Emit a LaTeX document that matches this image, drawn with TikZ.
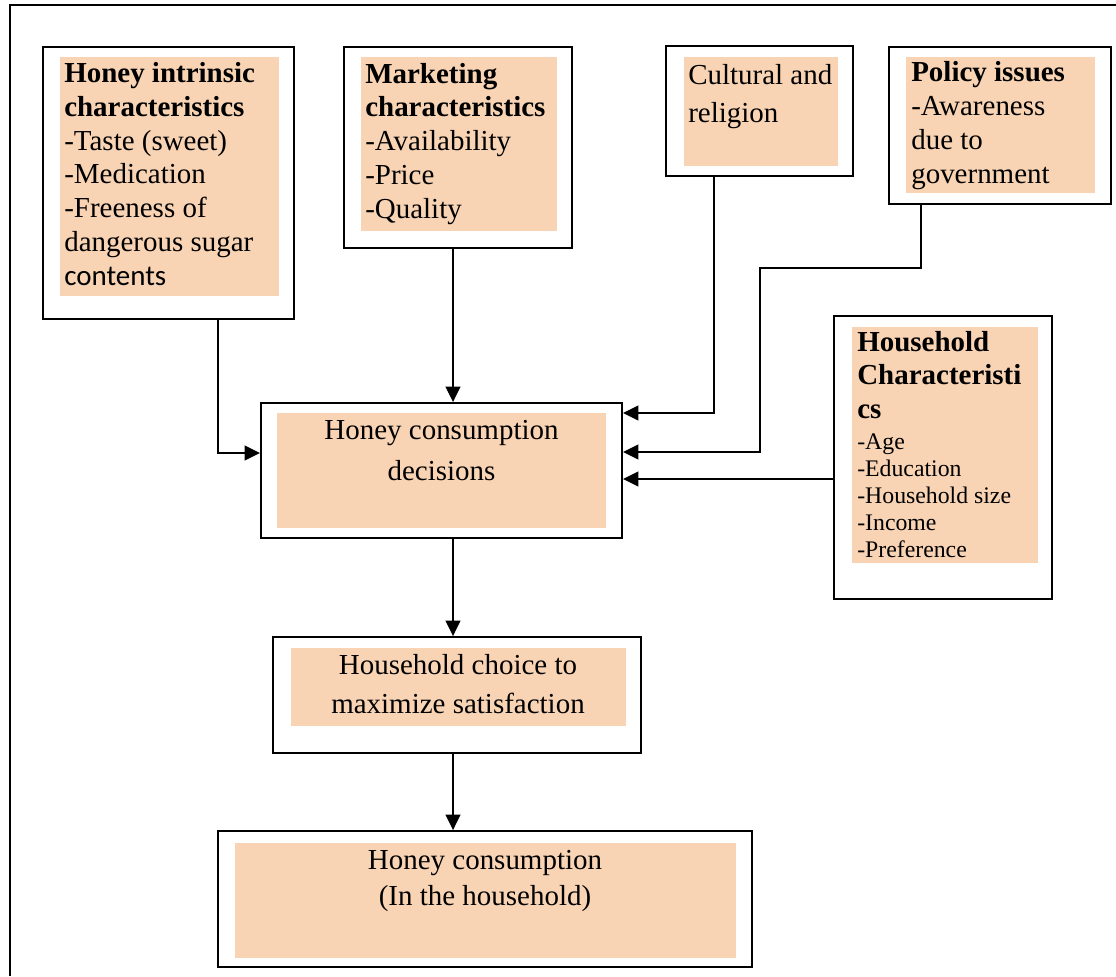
\documentclass[tikz,border=0pt]{standalone}
\usepackage{fontspec}
\setmainfont{Liberation Serif}
\newfontfamily\calibrifont{Carlito}
\usetikzlibrary{arrows.meta}
\definecolor{peach}{HTML}{F9D4B4}

\begin{document}
\begin{tikzpicture}[x=.025cm,y=-.025cm,
  box/.style={draw,line width=1.3pt,inner sep=0pt},
  txt/.style={inner sep=0pt,align=left,anchor=base west,font=\fontsize{20.6}{24}\selectfont},
  ctxt/.style={inner sep=0pt,align=center,anchor=base,font=\fontsize{20.6}{28.5}\selectfont},
  arr/.style={line width=1.3pt,-{Triangle[length=11pt,width=10.5pt]}}]
  \useasboundingbox (0,0) rectangle (1116,976);
  \draw[line width=1.3pt] (10,976) |- (1116,5);
  % shaded panels
  \fill[peach] (60,57) rectangle (279,296);
  \fill[peach] (361,57) rectangle (557,231);
  \fill[peach] (684,57) rectangle (838,166);
  \fill[peach] (906,57) rectangle (1095,193);
  \fill[peach] (852,327) rectangle (1038,563);
  \fill[peach] (277,413) rectangle (606,528);
  \fill[peach] (291,648) rectangle (626,726);
  \fill[peach] (235,843) rectangle (736,958);
  % frames
  \node[box,minimum width=6.275cm,minimum height=6.8cm] (intr) at (168.5,183) {};
  \node[box,minimum width=5.7cm,minimum height=5.025cm] (mkt) at (458,147.5) {};
  \node[box,minimum width=4.675cm,minimum height=3.25cm] (cult) at (759.5,111) {};
  \node[box,minimum width=5.55cm,minimum height=3.925cm] (pol) at (1000,125.5) {};
  \node[box,minimum width=5.45cm,minimum height=7.075cm] (hh) at (943,457.5) {};
  \node[box,minimum width=9.025cm,minimum height=3.375cm] (dec) at (441.5,470.5) {};
  \node[box,minimum width=9.2cm,minimum height=2.9cm] (choice) at (457,695) {};
  \node[box,minimum width=13.35cm,minimum height=3.4cm] (cons) at (485,899) {};
  % texts (placed at the baseline of their last line)
  \node[txt] (intrtext) at (64,285) {\textbf{Honey intrinsic}\\ \textbf{characteristics}\\
    -Taste (sweet)\\ -Medication\\ -Freeness of\\ dangerous sugar\\ {\calibrifont contents}};
  \node[txt] (mkttext) at (365,218) {\textbf{Marketing}\\ \textbf{characteristics}\\
    -Availability\\ -Price\\ -Quality};
  \node[txt,font=\fontsize{20.6}{27}\selectfont] (culttext) at (688,122) {Cultural and\\ religion};
  \node[txt] (poltext) at (911,183) {\textbf{Policy issues}\\ -Awareness\\ due to\\ government};
  \node[txt,font=\fontsize{20.6}{23.5}\selectfont\bfseries] (hhhead) at (857,418)
    {Household\\ Characteristi\\ cs};
  \node[txt,font=\fontsize{16.9}{19.2}\selectfont] (hhlist) at (857,557)
    {-Age\\ -Education\\ -Household size\\ -Income\\ -Preference};
  \node[ctxt] (dectext) at (441.5,480) {Honey consumption\\ decisions};
  \node[ctxt,font=\fontsize{20.6}{27.7}\selectfont] (choicetext) at (458,713)
    {Household choice to\\ maximize satisfaction};
  \node[ctxt,font=\fontsize{20.6}{25}\selectfont] (constext) at (485,905)
    {Honey consumption\\ (In the household)};
  % bends
  \coordinate (axis) at (453,0);
  \coordinate (i1) at (218,453);
  \coordinate (c1) at (714,413);
  \coordinate (p1) at (921,268);
  \coordinate (p2) at (760,452);
  \coordinate (h1) at (834,479);
  % arrows
  \draw[arr] (intr.south -| i1) -- (i1) -- (i1 -| dec.west);
  \draw[arr] (mkt.south -| axis) -- (axis |- dec.north);
  \draw[arr] (cult.south -| c1) |- (c1 -| dec.east);
  \draw[arr] (pol.south -| p1) -- (p1) -| (p2) -- (p2 -| dec.east);
  \draw[arr] (hh.west |- h1) -- (h1 -| dec.east);
  \draw[arr] (dec.south -| axis) -- (axis |- choice.north);
  \draw[arr] (choice.south -| axis) -- (axis |- cons.north);
\end{tikzpicture}
\end{document}
